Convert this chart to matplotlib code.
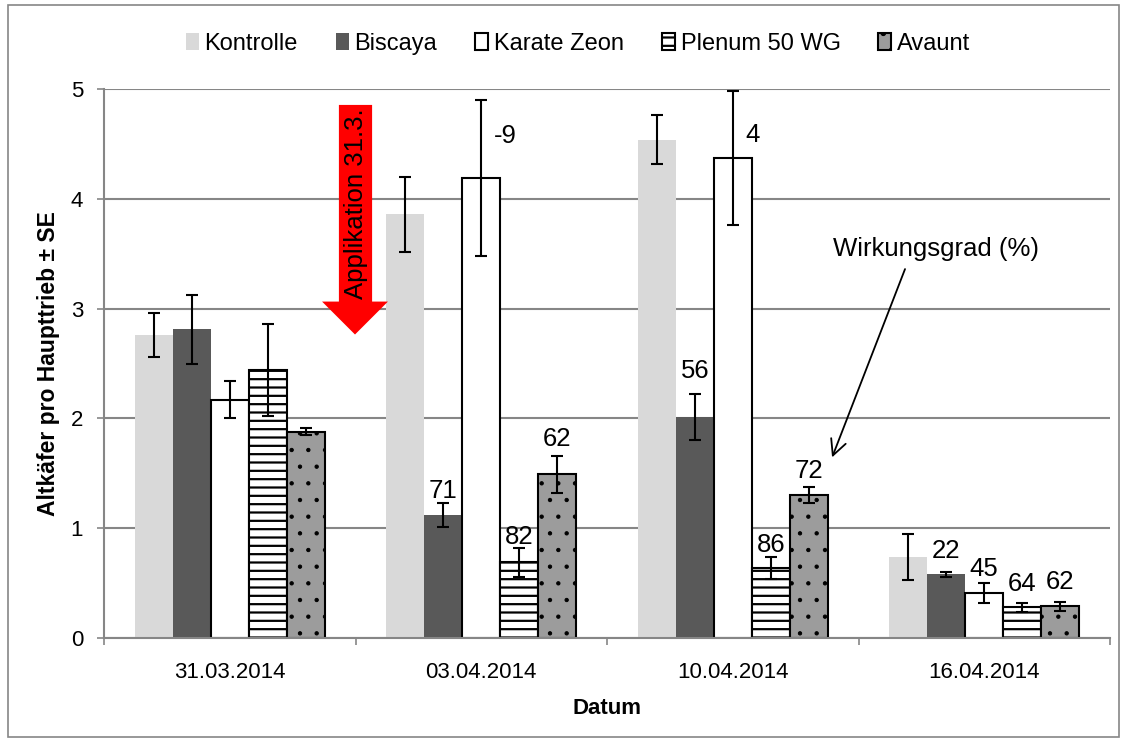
import numpy as np
import matplotlib
matplotlib.use("Agg")
import matplotlib.pyplot as plt
from matplotlib.patches import Rectangle, Polygon

plt.rcParams['font.family'] = ['Liberation Sans', 'DejaVu Sans']
plt.rcParams['hatch.linewidth'] = 1.6

# ---------------- data ----------------
dates = ["31.03.2014", "03.04.2014", "10.04.2014", "16.04.2014"]
treatments = ["Kontrolle", "Biscaya", "Karate Zeon", "Plenum 50 WG", "Avaunt"]

kontrolle = [2.76, 3.86, 4.54, 0.735]
biscaya = [2.81, 1.12, 2.01, 0.58]
karate = [2.17, 4.19, 4.37, 0.41]
plenum = [2.44, 0.69, 0.64, 0.28]
avaunt = [1.88, 1.49, 1.30, 0.29]

se_kontrolle = [0.20, 0.34, 0.225, 0.21]
se_biscaya = [0.31, 0.105, 0.21, 0.025]
se_karate = [0.17, 0.71, 0.61, 0.09]
se_plenum = [0.42, 0.13, 0.10, 0.04]
se_avaunt = [0.03, 0.165, 0.075, 0.04]

# Wirkungsgrad (%) labels
wg_kontrolle = ["", "", "", ""]
wg_biscaya = ["", "71", "56", "22"]
wg_karate = ["", "-9", "4", "45"]
wg_plenum = ["", "82", "86", "64"]
wg_avaunt = ["", "62", "72", "62"]

# label vertical positions (data units)
lab_y_biscaya = [0, 1.34, 2.43, 0.79]
lab_y_karate = [0, 4.57, 4.58, 0.63]
lab_y_plenum = [0, 0.92, 0.85, 0.49]
lab_y_avaunt = [0, 1.81, 1.52, 0.51]

values = [kontrolle, biscaya, karate, plenum, avaunt]
errors = [se_kontrolle, se_biscaya, se_karate, se_plenum, se_avaunt]
labels = [wg_kontrolle, wg_biscaya, wg_karate, wg_plenum, wg_avaunt]
label_y = [[0, 0, 0, 0], lab_y_biscaya, lab_y_karate, lab_y_plenum, lab_y_avaunt]

styles = [
    dict(color='#d9d9d9', edgecolor='none', linewidth=0),
    dict(color='#595959', edgecolor='none', linewidth=0),
    dict(facecolor='white', edgecolor='black', linewidth=1.5),
    dict(facecolor='white', edgecolor='black', linewidth=1.5, hatch='--'),
    dict(facecolor='#9c9c9c', edgecolor='black', linewidth=1.5, hatch='.'),
]
hatch_lw = [1.6, 1.6, 1.6, 1.6, 0.7]

# ---------------- figure ----------------
W, H = 1126, 742
fig = plt.figure(figsize=(W / 100, H / 100), dpi=100)
ax = fig.add_axes([104 / W, 1 - 638 / H, (1110 - 104) / W, (638 - 89) / H])

x = np.arange(len(dates))
width = 0.151
handles = []
for i, (vals, errs, st) in enumerate(zip(values, errors, styles)):
    pos = x + (i - 2) * width
    with plt.rc_context({'hatch.linewidth': hatch_lw[i]}):
        b = ax.bar(pos, vals, width, label=treatments[i], zorder=2, **st)
    for p in b.patches:
        if hasattr(p, 'set_hatch_linewidth'):
            p.set_hatch_linewidth(hatch_lw[i])
    handles.append(b)
    ax.errorbar(pos, vals, yerr=errs, fmt='none', ecolor='black',
                elinewidth=1.5, capsize=4, capthick=1.5, zorder=4)
    for j, t in enumerate(labels[i]):
        if not t:
            continue
        if i == 2 and j in (1, 2):
            ax.text(pos[j] + 0.05, label_y[i][j], t, ha='left', va='center',
                    fontsize=18.5, zorder=5)
        else:
            ax.text(pos[j], label_y[i][j], t, ha='center', va='center',
                    fontsize=18.5, zorder=5)

ax.set_xlim(-0.5, len(dates) - 0.5)
ax.set_ylim(0, 5)
ax.set_yticks([0, 1, 2, 3, 4, 5])
ax.set_xticks(x)
ax.set_xticklabels(dates, fontsize=16)
ax.set_xticks(np.arange(-0.5, len(dates)), minor=True)
ax.tick_params(axis='x', which='major', length=0, pad=17)
ax.tick_params(axis='x', which='minor', length=5, width=1.2, color='#868686', direction='out')
ax.tick_params(axis='y', labelsize=16, length=5, width=1.2, color='#868686', pad=10)

ax.yaxis.grid(True, color='#868686', linewidth=1.5, zorder=0)
ax.set_axisbelow(True)
for s in ['top', 'right']:
    ax.spines[s].set_visible(False)
for s in ['left', 'bottom']:
    ax.spines[s].set_color('#868686')
    ax.spines[s].set_linewidth(1.5)

ax.set_xlabel("Datum", fontsize=16, fontweight='bold', labelpad=11)
ax.set_ylabel("Altkäfer pro Haupttrieb ± SE", fontsize=16.5, fontweight='bold', labelpad=8)

# red application arrow (annotation)
sx0, sx1 = 0.434, 0.566
hx0, hx1, tipx = 0.367, 0.629, 0.498
ytop, ybase, ytip = 4.855, 3.064, 2.764
arrow = Polygon([(sx0, ytop), (sx1, ytop), (sx1, ybase), (hx1, ybase),
                 (tipx, ytip), (hx0, ybase), (sx0, ybase)],
                closed=True, facecolor='#ff0000', edgecolor='none', zorder=3)
ax.add_patch(arrow)
ax.text(0.5, 3.96, "Applikation 31.3.", rotation=90, ha='center', va='center',
        fontsize=18.5, zorder=5)

# Wirkungsgrad annotation
ax.text(2.81, 3.54, "Wirkungsgrad (%)", ha='center', va='center', fontsize=18.5)
ax.annotate("", xy=(2.395, 1.645), xytext=(2.685, 3.36),
            arrowprops=dict(arrowstyle='->', color='black', lw=1.3,
                            mutation_scale=28, shrinkA=0, shrinkB=0))

fig.legend(handles=handles, labels=treatments, loc='center',
           bbox_to_anchor=(578 / W, 1 - 44 / H), ncol=5, frameon=False,
           fontsize=17, handlelength=0.55, handleheight=0.7,
           handletextpad=0.25, columnspacing=1.6, borderpad=0)

fig.patches.append(Rectangle((8 / W, 5 / H), (1119 - 8) / W, (737 - 5) / H,
                             transform=fig.transFigure, fill=False,
                             edgecolor='#868686', linewidth=1.2))

fig.savefig("out.png", dpi=100)
